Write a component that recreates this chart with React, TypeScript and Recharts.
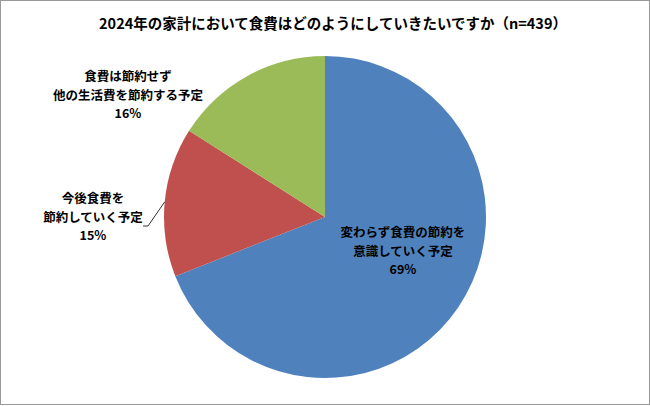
import React from "react";
import { PieChart, Pie, Cell } from "recharts";

const TITLE = "2024年の家計において食費はどのようにしていきたいですか（n=439）";

// slices, clockwise from 12 o'clock
const sliceNames = [
  "変わらず食費の節約を\n意識していく予定",
  "今後食費を\n節約していく予定",
  "食費は節約せず\n他の生活費を節約する予定",
];
const sliceValues = [69, 15, 16];
const sliceColors = ["#4F81BD", "#C0504D", "#9BBB59"];

// label anchor offsets from the pie centre (styling only)
const labelOffsets = [
  { dx: 78, dy: 33 },
  { dx: -232, dy: -1 },
  { dx: -197, dy: -123 },
];

const FONT = "'Noto Sans CJK JP', 'Noto Sans', sans-serif";
const RAD = Math.PI / 180;

const chartData = sliceNames.map((name, i) => ({
  name,
  value: sliceValues[i],
}));

function SliceLabel(props: any) {
  const { cx, cy, midAngle, outerRadius, index } = props;
  const off = labelOffsets[index];
  const x = cx + off.dx;
  const y = cy + off.dy;
  const lines = [...sliceNames[index].split("\n"), `${sliceValues[index]}%`];
  const lh = 18.5;
  const top = y - ((lines.length - 1) * lh) / 2;

  // leader line only for the small red slice (as in the original)
  let leader = null;
  if (index === 1) {
    const ex = cx + outerRadius * Math.cos(-midAngle * RAD);
    const ey = cy + outerRadius * Math.sin(-midAngle * RAD);
    const bx = x + 55;
    const by = y + 10;
    leader = (
      <polyline
        points={`${ex},${ey} ${bx},${by} ${bx - 5},${by}`}
        fill="none"
        stroke="#000"
        strokeWidth={0.8}
      />
    );
  }

  return (
    <g>
      {leader}
      {lines.map((t, i) => (
        <text
          key={i}
          x={x}
          y={top + i * lh}
          textAnchor="middle"
          dominantBaseline="central"
          fontFamily={FONT}
          fontSize={12.5}
          fontWeight="bold"
          fill="#000"
        >
          {t}
        </text>
      ))}
    </g>
  );
}

export default function App() {
  return (
    <div
      style={{
        position: "absolute",
        left: 0,
        top: 0,
        width: 650,
        height: 405,
        boxSizing: "border-box",
        border: "1px solid #999",
        background: "#fff",
      }}
    >
      <div
        style={{
          position: "absolute",
          top: 11,
          left: 14,
          width: 636,
          textAlign: "center",
          fontFamily: FONT,
          fontWeight: "bold",
          fontSize: 14.5,
          color: "#000",
          lineHeight: "22px",
        }}
      >
        {TITLE}
      </div>
      <div style={{ position: "absolute", left: -1, top: -1 }}>
        <PieChart
          width={650}
          height={406}
          margin={{ top: 0, right: 0, bottom: 0, left: 0 }}
        >
          <Pie
            data={chartData}
            dataKey="value"
            nameKey="name"
            cx={325}
            cy={217}
            innerRadius={0}
            outerRadius={161}
            startAngle={90}
            endAngle={-270}
            stroke="none"
            labelLine={false}
            label={SliceLabel}
            isAnimationActive={false}
          >
            {chartData.map((d, i) => (
              <Cell key={d.name} fill={sliceColors[i]} />
            ))}
          </Pie>
        </PieChart>
      </div>
    </div>
  );
}
